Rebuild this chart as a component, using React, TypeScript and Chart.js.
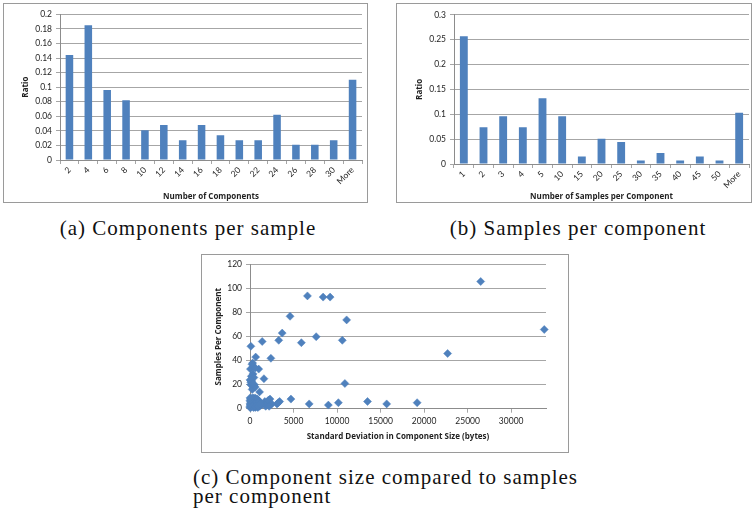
import React, { useEffect, useRef } from 'react';
import { Chart, registerables } from 'chart.js';

Chart.register(...registerables);

// ---------- data ----------
const componentBins = ['2', '4', '6', '8', '10', '12', '14', '16', '18', '20', '22', '24', '26', '28', '30', 'More'];
const componentRatio = [0.144, 0.185, 0.096, 0.082, 0.041, 0.048, 0.027, 0.048, 0.034, 0.027, 0.027, 0.062, 0.021, 0.021, 0.027, 0.11];

const sampleBins = ['1', '2', '3', '4', '5', '10', '15', '20', '25', '30', '35', '40', '45', '50', 'More'];
const sampleRatio = [0.257, 0.074, 0.096, 0.074, 0.132, 0.096, 0.015, 0.051, 0.044, 0.007, 0.022, 0.007, 0.015, 0.007, 0.103];

const sizeTicks = [0, 5000, 10000, 15000, 20000, 25000, 30000];

const sizeStdDev = [
  26500, 33800, 22700, 6600, 8400, 9200, 4600, 11100, 3700, 3300, 7600, 5900, 10600, 1400, 100, 2400, 650, 10900, 1600, 1100,
  1000, 4700, 6800, 9000, 10150, 13500, 15700, 19200, 3100, 3400, 3250, 2300, 2300, 1700, 1900, 2000, 1800, 2100, 2500, 2200,
  50, 230, 400, 300, 600, 350, 150, 450, 200, 80, 400, 360, 100, 500, 250, 600, 0, 300,
  0, 0, 50, 100, 150, 200, 250, 300, 350, 400, 450, 500, 550, 600, 650, 700, 750, 800, 850, 900, 950, 1000, 1100, 1200, 1300,
  100, 200, 300, 400, 500, 600, 700, 800, 900, 50, 150, 250, 350, 450, 550, 650, 750, 850, 950, 1050, 1150, 0, 0, 0,
];
const samplesPerComp = [
  106, 66, 46, 94, 93, 93, 77, 74, 63, 57, 60, 55, 57, 56, 52, 42, 43, 21, 25, 14,
  33, 8, 4, 3, 5, 6, 4, 5, 4, 6, 5, 8, 3, 6, 3, 5, 2, 7, 4, 2,
  33, 37, 35, 38, 34, 29, 27, 26, 23, 20, 19, 17, 22, 20, 16, 18, 24, 21,
  1, 2, 3, 5, 7, 8, 4, 6, 2, 9, 5, 3, 7, 1, 4, 8, 6, 2, 5, 3, 7, 4, 2, 5, 3,
  1, 2, 3, 1, 6, 9, 2, 7, 1, 6, 4, 9, 5, 7, 2, 6, 3, 8, 2, 6, 4, 4, 7, 9,
];

// ---------- styles ----------
const FONT = 'Lato, "Noto Sans", sans-serif';
const TITLE_FONT = '"Open Sans", "Liberation Sans", sans-serif';
const TEXT = '#1f1f1f';
const GRID = '#a6a6a6';
const AXIS = '#8c8c8c';
const BLUE = '#4F81BD';
const tickFont = { family: FONT, size: 8.5, lineHeight: 1.2 };
const titleFont = { family: TITLE_FONT, size: 8, weight: 'bold' as const, lineHeight: 1.2 };

const fmt = (v: any) => String(parseFloat(Number(v).toFixed(3)));

function barConfig(labels: string[], values: number[], o: any): any {
  return {
    type: 'bar',
    data: {
      labels,
      datasets: [{ data: values, backgroundColor: BLUE, borderWidth: 0, barPercentage: 0.4, categoryPercentage: 1 }],
    },
    options: {
      responsive: false,
      animation: false,
      events: [],
      layout: { padding: { left: 0, right: o.padRight, top: o.padTop, bottom: 0 } },
      plugins: { legend: { display: false }, tooltip: { enabled: false } },
      scales: {
        x: {
          grid: { display: true, drawOnChartArea: false, drawTicks: true, tickLength: 4, color: GRID, offset: true },
          border: { display: true, color: AXIS, width: 1 },
          ticks: { font: tickFont, color: TEXT, minRotation: 45, maxRotation: 45, autoSkip: false, padding: 1 },
          title: { display: true, text: o.xTitle, font: titleFont, color: TEXT, padding: { top: 0, bottom: o.xTitlePad } },
          afterFit: (s: any) => { s.height = o.xHeight; },
        },
        y: {
          min: 0,
          max: o.yMax,
          ticks: { stepSize: o.step, font: tickFont, color: TEXT, padding: 4, callback: (v: any) => fmt(v) },
          grid: { color: GRID, tickLength: 4 },
          border: { display: true, color: AXIS },
          title: { display: true, text: 'Ratio', font: titleFont, color: TEXT, padding: { top: o.yTitlePad, bottom: 0 } },
          afterFit: (s: any) => { s.width = o.yWidth; },
        },
      },
    },
  };
}

function scatterConfig(): any {
  const points = sizeStdDev.map((x, i) => ({ x, y: samplesPerComp[i] }));
  return {
    type: 'scatter',
    data: {
      datasets: [{
        data: points, pointStyle: 'rectRot', radius: 4, backgroundColor: BLUE, borderColor: BLUE, borderWidth: 0.5, clip: false,
      }],
    },
    options: {
      responsive: false,
      animation: false,
      events: [],
      layout: { padding: { left: 0, right: 22, top: 9.7, bottom: 0 } },
      plugins: { legend: { display: false }, tooltip: { enabled: false } },
      scales: {
        x: {
          type: 'linear',
          min: 0,
          max: 34000,
          afterBuildTicks: (s: any) => { s.ticks = sizeTicks.map((v) => ({ value: v })); },
          ticks: { autoSkip: false, font: tickFont, color: TEXT, padding: 3, maxRotation: 0, callback: (v: any) => String(v) },
          grid: { display: true, drawOnChartArea: false, tickLength: 4, color: GRID },
          border: { display: true, color: AXIS },
          title: { display: true, text: 'Standard Deviation in Component Size (bytes)', font: titleFont, color: TEXT, padding: { top: 0, bottom: 10.9 } },
          afterFit: (s: any) => { s.height = 43.3; },
        },
        y: {
          min: 0,
          max: 120,
          ticks: { stepSize: 20, font: tickFont, color: TEXT, padding: 4 },
          grid: { color: GRID, tickLength: 4 },
          border: { display: true, color: AXIS },
          title: { display: true, text: 'Samples Per Component', font: titleFont, color: TEXT, padding: { top: 12.2, bottom: 0 } },
          afterFit: (s: any) => { s.width = 48; },
        },
      },
    },
  };
}

function ChartBox({ left, top, width, height, make }: { left: number; top: number; width: number; height: number; make: () => any }) {
  const ref = useRef<HTMLCanvasElement | null>(null);
  useEffect(() => {
    if (!ref.current) return;
    const chart = new Chart(ref.current, make());
    return () => chart.destroy();
  }, []);
  return (
    <div style={{ position: 'absolute', left, top, width, height, boxSizing: 'border-box', border: '1px solid #9a9a9a', background: '#fff' }}>
      <canvas ref={ref} width={width - 2} height={height - 2} style={{ display: 'block' }} />
    </div>
  );
}

const captionStyle: React.CSSProperties = {
  position: 'absolute',
  fontFamily: '"Liberation Serif", "DejaVu Serif", serif',
  fontSize: 21,
  letterSpacing: '1px',
  lineHeight: '20px',
  color: '#111',
  whiteSpace: 'nowrap',
};

export default function App() {
  return (
    <div style={{ position: 'absolute', left: 0, top: 0, width: 755, height: 510, background: '#fff', overflow: 'hidden' }}>
      <ChartBox
        left={3}
        top={3}
        width={365}
        height={200}
        make={() => barConfig(componentBins, componentRatio, {
          yMax: 0.2, step: 0.02, yWidth: 56, xHeight: 42, padTop: 10.3, padRight: 5, yTitlePad: 16.9, xTitlePad: 0.9,
          xTitle: 'Number of Components',
        })}
      />
      <ChartBox
        left={396}
        top={3}
        width={356}
        height={200}
        make={() => barConfig(sampleBins, sampleRatio, {
          yMax: 0.3, step: 0.05, yWidth: 57, xHeight: 38, padTop: 10.8, padRight: 2, yTitlePad: 17.8, xTitlePad: 0,
          xTitle: 'Number of Samples per Component',
        })}
      />
      <ChartBox left={201} top={254} width={368} height={199} make={scatterConfig} />
      <div style={{ ...captionStyle, left: 0, width: 376, top: 218, textAlign: 'center' }}>(a) Components per sample</div>
      <div style={{ ...captionStyle, left: 396, width: 364, top: 218, textAlign: 'center' }}>(b) Samples per component</div>
      <div style={{ ...captionStyle, left: 193, top: 468, lineHeight: '19px' }}>
        (c) Component size compared to samples
        <br />
        per component
      </div>
    </div>
  );
}
